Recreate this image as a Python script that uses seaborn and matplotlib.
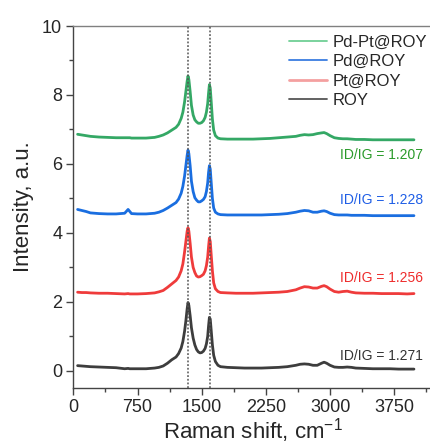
import matplotlib
matplotlib.use("Agg")
import matplotlib.pyplot as plt
import seaborn as sns
import pandas as pd
from matplotlib.ticker import MultipleLocator
from matplotlib.lines import Line2D

# ---------------- data ----------------
shift = [50, 100, 150, 200, 300, 400, 500, 600, 640, 660,
         680, 750, 850, 950, 1000, 1050, 1100, 1150, 1200, 1230,
         1260, 1280, 1300, 1315, 1330, 1340, 1350, 1365, 1380, 1400,
         1420, 1440, 1460, 1480, 1500, 1520, 1540, 1555, 1570, 1580,
         1590, 1600, 1610, 1625, 1640, 1660, 1690, 1720, 1800, 1900,
         2000, 2100, 2200, 2300, 2400, 2500, 2600, 2650, 2700, 2750,
         2800, 2850, 2900, 2930, 2960, 3000, 3050, 3100, 3150, 3200,
         3250, 3300, 3400, 3500, 3600, 3700, 3800, 3900, 3980]

roy = [0.15, 0.14, 0.13, 0.12, 0.11, 0.10, 0.09, 0.06, 0.07, 0.06,
       0.06, 0.06, 0.06, 0.08, 0.10, 0.14, 0.22, 0.32, 0.40, 0.50,
       0.66, 0.85, 1.15, 1.45, 1.80, 1.98, 1.90, 1.60, 1.25, 0.95,
       0.75, 0.62, 0.55, 0.52, 0.53, 0.57, 0.65, 0.78, 1.00, 1.30,
       1.55, 1.50, 1.20, 0.75, 0.45, 0.27, 0.16, 0.12, 0.10, 0.09,
       0.08, 0.08, 0.08, 0.09, 0.10, 0.12, 0.16, 0.19, 0.20, 0.19,
       0.16, 0.16, 0.22, 0.25, 0.22, 0.16, 0.11, 0.10, 0.10, 0.11,
       0.10, 0.08, 0.07, 0.06, 0.06, 0.06, 0.05, 0.05, 0.05]

pt_roy = [2.28, 2.27, 2.27, 2.26, 2.25, 2.25, 2.24, 2.23, 2.24, 2.23,
          2.23, 2.23, 2.24, 2.26, 2.29, 2.33, 2.42, 2.52, 2.62, 2.72,
          2.90, 3.10, 3.45, 3.75, 4.05, 4.15, 4.05, 3.70, 3.30, 3.00,
          2.85, 2.75, 2.72, 2.73, 2.76, 2.80, 2.90, 3.05, 3.30, 3.60,
          3.85, 3.75, 3.40, 2.90, 2.55, 2.38, 2.30, 2.27, 2.26, 2.25,
          2.25, 2.25, 2.26, 2.27, 2.28, 2.30, 2.35, 2.40, 2.44, 2.43,
          2.40, 2.40, 2.45, 2.47, 2.44, 2.37, 2.30, 2.28, 2.30, 2.31,
          2.28, 2.26, 2.25, 2.25, 2.24, 2.24, 2.24, 2.23, 2.24]

pd_roy = [4.68, 4.65, 4.62, 4.58, 4.56, 4.55, 4.55, 4.57, 4.68, 4.62,
          4.56, 4.55, 4.55, 4.57, 4.60, 4.65, 4.72, 4.80, 4.88, 4.98,
          5.15, 5.35, 5.65, 5.95, 6.25, 6.40, 6.30, 5.95, 5.50, 5.20,
          5.02, 4.95, 4.90, 4.90, 4.93, 4.97, 5.05, 5.20, 5.45, 5.75,
          5.95, 5.85, 5.50, 5.00, 4.72, 4.60, 4.55, 4.53, 4.52, 4.52,
          4.52, 4.52, 4.52, 4.53, 4.54, 4.56, 4.60, 4.63, 4.65, 4.64,
          4.60, 4.60, 4.63, 4.64, 4.62, 4.57, 4.53, 4.52, 4.52, 4.52,
          4.51, 4.51, 4.51, 4.50, 4.50, 4.50, 4.50, 4.50, 4.50]

pdpt_roy = [6.86, 6.84, 6.82, 6.80, 6.78, 6.77, 6.76, 6.76, 6.76, 6.76,
            6.75, 6.75, 6.75, 6.77, 6.80, 6.84, 6.90, 6.98, 7.06, 7.15,
            7.32, 7.50, 7.80, 8.10, 8.40, 8.55, 8.45, 8.10, 7.70, 7.42,
            7.28, 7.22, 7.18, 7.18, 7.20, 7.25, 7.35, 7.50, 7.75, 8.05,
            8.30, 8.20, 7.85, 7.30, 6.98, 6.82, 6.75, 6.73, 6.72, 6.72,
            6.72, 6.72, 6.73, 6.74, 6.76, 6.78, 6.80, 6.83, 6.85, 6.84,
            6.85, 6.88, 6.90, 6.91, 6.88, 6.82, 6.76, 6.74, 6.73, 6.73,
            6.72, 6.71, 6.71, 6.70, 6.70, 6.70, 6.70, 6.70, 6.70]

series_names = ["Pd-Pt@ROY", "Pd@ROY", "Pt@ROY", "ROY"]
ratio_labels = ["ID/IG = 1.207", "ID/IG = 1.228", "ID/IG = 1.256", "ID/IG = 1.271"]
ratio_y = [6.26, 4.94, 2.70, 0.44]
peak_lines = [1340, 1595]

line_colors = {"Pd-Pt@ROY": "#34a865", "Pd@ROY": "#1a6ee0",
               "Pt@ROY": "#ef3b3b", "ROY": "#3d3d3d"}
legend_colors = {"Pd-Pt@ROY": "#6fcf95", "Pd@ROY": "#3a7de0",
                 "Pt@ROY": "#f4a0a0", "ROY": "#555555"}
text_colors = ["#2a9a2a", "#1f5ee6", "#ee2c2c", "#333333"]

# ---------------- plot ----------------
sns.set_style("ticks")
plt.rcParams["font.family"] = ["Liberation Sans", "DejaVu Sans"]
plt.rcParams["mathtext.fontset"] = "custom"
plt.rcParams["mathtext.rm"] = "Liberation Sans"
plt.rcParams["mathtext.it"] = "Liberation Sans"
plt.rcParams["mathtext.default"] = "regular"

frames = []
for name, vals in zip(series_names, [pdpt_roy, pd_roy, pt_roy, roy]):
    frames.append(pd.DataFrame({"shift": shift, "intensity": vals, "sample": name}))
df = pd.concat(frames, ignore_index=True)

fig = plt.figure(figsize=(4.30, 4.44), dpi=100)
ax = fig.add_axes([0.1705, 0.126, 0.836, 0.8154])

for name in series_names[::-1]:
    sub = df[df["sample"] == name]
    sns.lineplot(data=sub, x="shift", y="intensity", ax=ax, color=line_colors[name],
                 lw=2.0, estimator=None, legend=False)

for xv in peak_lines:
    ax.axvline(xv, color="#555555", ls=(0, (1.2, 1.2)), lw=1.1, zorder=5)

for lab, yv, c in zip(ratio_labels, ratio_y, text_colors):
    ax.text(4085, yv, lab, color=c, fontsize=10, ha="right", va="center")

ax.set_xlim(0, 4200)
ax.set_ylim(-0.5, 10)
ax.xaxis.set_major_locator(MultipleLocator(750))
ax.xaxis.set_minor_locator(MultipleLocator(375))
ax.yaxis.set_major_locator(MultipleLocator(2))
ax.yaxis.set_minor_locator(MultipleLocator(1))
ax.tick_params(axis="both", which="major", direction="out", length=5, width=1,
               labelsize=13, color="#444444", pad=3)
ax.tick_params(axis="both", which="minor", direction="out", length=3, width=1,
               color="#444444")
ax.tick_params(top=False, right=False, which="both")
for s in ["left", "bottom"]:
    ax.spines[s].set_color("#444444")
    ax.spines[s].set_linewidth(1.0)
ax.spines["top"].set_color("#808080")
ax.spines["top"].set_linewidth(1.0)
ax.spines["right"].set_visible(False)

ax.set_xlabel("Raman shift, cm$^{-1}$", fontsize=16, labelpad=0)
ax.set_ylabel("Intensity, a.u.", fontsize=16, labelpad=6)

handles = [Line2D([], [], color=legend_colors[n], lw=1.3 if n != "Pt@ROY" else 2.0)
           for n in series_names]
fig.legend(handles, series_names, loc="upper left", bbox_to_anchor=(0.672, 0.922),
           frameon=False, fontsize=12, handlelength=2.3, handletextpad=0.3,
           labelspacing=0.27, borderpad=0, borderaxespad=0)

fig.savefig("out.png", dpi=100)
